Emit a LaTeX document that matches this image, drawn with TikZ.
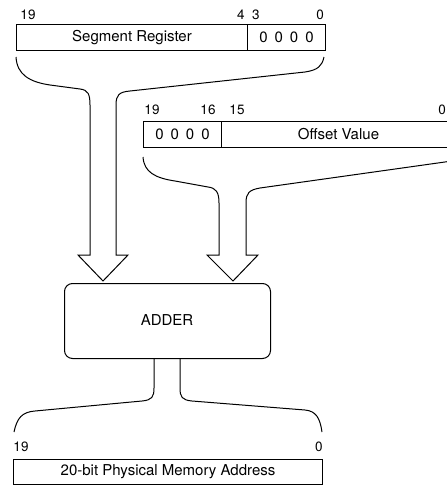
\documentclass[tikz,border=0pt]{standalone}
\usepackage{fontspec}
\setmainfont{TeX Gyre Heros}
\newcommand{\zeros}{0\hspace{7pt}0\hspace{7pt}0\hspace{7pt}0}
\begin{document}
\begin{tikzpicture}[x=1pt,y=-1pt,line width=1pt,
  lbl/.style={font=\fontsize{15}{17}\selectfont},
  num/.style={font=\fontsize{13.5}{15}\selectfont,inner sep=0pt},
  regbox/.style={draw,anchor=north west,inner sep=0pt,lbl},
  bus/.style={line width=1pt,line join=miter}]
\useasboundingbox (0,0) rectangle (447,485);
\clip (0,0) rectangle (447,485);
% segment register
\node[regbox,minimum width=231pt,minimum height=26pt] (seg) at (16,24) {Segment Register};
\node[regbox,minimum width=78pt,minimum height=26pt] (segz) at (247,24) {\zeros};
\node[num] (s19) at (28,15) {19};
\node[num] (s4) at (241,15) {4};
\node[num] (s3) at (256,15) {3};
\node[num] (s0) at (320,15) {0};
% offset
\node[regbox,minimum width=78pt,minimum height=26pt] (offz) at (143,121) {\zeros};
\node[regbox,minimum width=234pt,minimum height=26pt] (off) at (221,121) {Offset Value};
\node[num] (o19) at (152,110) {19};
\node[num] (o16) at (208,110) {16};
\node[num] (o15) at (237,110) {15};
\node[num] (o0) at (442,110) {0};
% adder
\node[draw,rounded corners=8pt,minimum width=206pt,minimum height=75pt,lbl,anchor=north west] (adder) at (64,283) {};
\node[lbl] (addertxt) at (167,320) {ADDER};
% physical
\node[regbox,minimum width=309pt,minimum height=25pt] (phys) at (13,459) {20-bit Physical Memory Address};
\node[num] (p19) at (21,447) {19};
\node[num] (p0) at (319,447) {0};
% segment bus arrow
\draw[bus] (16,57) .. controls (17,75) and (30,82) .. (50,85) -- (80,89)
  .. controls (88,90) and (90,94) .. (90,105) -- (90,255) -- (78,255) -- (103,281)
  -- (128,255) -- (116,255) -- (116,105) .. controls (116,95) and (119,92) .. (130,91)
  -- (305,72) .. controls (318,70) and (322,66) .. (324,57);
% offset bus arrow
\draw[bus] (143,157) .. controls (144,172) and (155,178) .. (175,181) -- (208,187)
  .. controls (216,188) and (219,192) .. (219,203) -- (219,255) -- (207,255) -- (233,281)
  -- (258,255) -- (246,255) -- (246,203) .. controls (246,193) and (249,190) .. (260,188)
  -- (452,161);
% output bus
\draw[bus] (14,432) .. controls (17,418) and (22,412) .. (35,411) -- (142,401)
  .. controls (152,400) and (154,397) .. (154,388) -- (adder.south -| 154,0);
\draw[bus] (adder.south -| 180,0) -- (180,388) .. controls (180,397) and (182,400) .. (192,401)
  -- (305,410) .. controls (316,411) and (320,418) .. (322,432);
\end{tikzpicture}
\end{document}
